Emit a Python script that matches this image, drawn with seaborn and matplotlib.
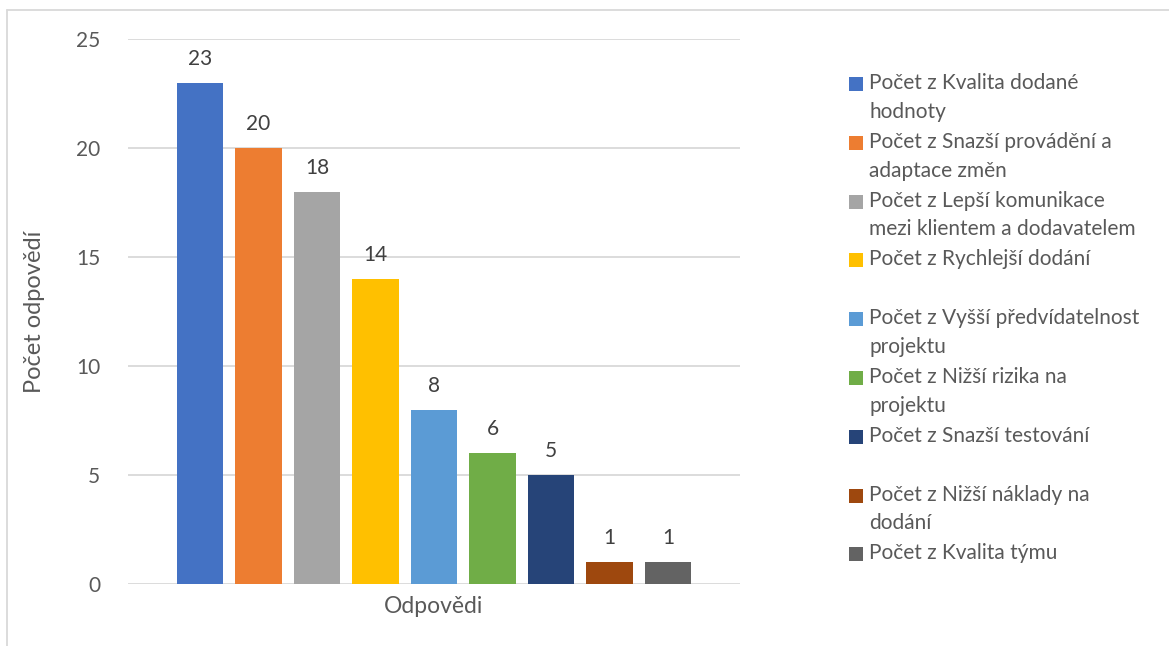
import matplotlib
matplotlib.use("Agg")
import matplotlib.pyplot as plt
from matplotlib.patches import Rectangle
from matplotlib.lines import Line2D
import seaborn as sns
import pandas as pd

# Survey answers: number of respondents per perceived benefit
category = "Odpovědi"
series = [
    "Počet z Kvalita dodané hodnoty",
    "Počet z Snazší provádění a adaptace změn",
    "Počet z Lepší komunikace mezi klientem a dodavatelem",
    "Počet z Rychlejší dodání",
    "Počet z Vyšší předvídatelnost projektu",
    "Počet z Nižší rizika na projektu",
    "Počet z Snazší testování",
    "Počet z Nižší náklady na dodání",
    "Počet z Kvalita týmu",
]
legend_labels = [
    "Počet z Kvalita dodané\nhodnoty",
    "Počet z Snazší provádění a\nadaptace změn",
    "Počet z Lepší komunikace\nmezi klientem a dodavatelem",
    "Počet z Rychlejší dodání",
    "Počet z Vyšší předvídatelnost\nprojektu",
    "Počet z Nižší rizika na\nprojektu",
    "Počet z Snazší testování",
    "Počet z Nižší náklady na\ndodání",
    "Počet z Kvalita týmu",
]
values = [23, 20, 18, 14, 8, 6, 5, 1, 1]
colors = ["#4472C4", "#ED7D31", "#A5A5A5", "#FFC000", "#5B9BD5",
          "#70AD47", "#264478", "#9E480E", "#636363"]
y_ticks = [0, 5, 10, 15, 20, 25]

df = pd.DataFrame({"kategorie": [category] * len(series),
                   "serie": series, "pocet": values})

sns.set_theme(style="white")
plt.rcParams["font.family"] = ["Lato", "DejaVu Sans"]
text_color = "#595959"
grid_color = "#D9D9D9"
fs = 15

fig = plt.figure(figsize=(11.69, 6.46), dpi=100)
ax = fig.add_axes([0.1095, 0.096, 0.5235, 0.8435])

sns.barplot(data=df, x="kategorie", y="pocet", hue="serie",
            hue_order=series, palette=colors, width=0.86, gap=0.21,
            dodge=True, legend=False, ax=ax, saturation=1, errorbar=None,
            linewidth=0, edgecolor="none")

for container in ax.containers:
    ax.bar_label(container, fmt="%d", padding=10, fontsize=fs, color="#404040")

ax.set_xlim(-0.5, 0.5)
ax.set_ylim(0, 25)
ax.set_yticks(y_ticks)
ax.yaxis.grid(True, color=grid_color, linewidth=1.3)
ax.set_axisbelow(True)
for s in ax.spines.values():
    s.set_visible(False)
ax.tick_params(axis="both", length=0, labelsize=fs, labelcolor=text_color)
ax.tick_params(axis="y", pad=20)
ax.tick_params(axis="x", pad=9)
ax.set_xlabel("")
for t in ax.get_xticklabels():
    t.set_fontsize(fs + 1.5)
ax.set_ylabel("Počet odpovědí", fontsize=fs + 2, color=text_color, labelpad=22)

# Legend column at the right, each entry in a two-line slot
W, H = fig.get_size_inches() * fig.dpi
slot = 58.8
for i, (lab, col) in enumerate(zip(legend_labels, colors)):
    y_top = 76 + i * slot
    fig.add_artist(Rectangle((849 / W, 1 - (y_top + 15) / H), 14 / W, 14 / H,
                             transform=fig.transFigure, facecolor=col,
                             edgecolor="none"))
    fig.text(869 / W, 1 - (y_top - 3) / H, lab, fontsize=fs, color=text_color,
             va="top", ha="left", linespacing=1.55)

# Chart frame (top and left edges)
fig.add_artist(Line2D([7 / W, 1], [1 - 10 / H, 1 - 10 / H],
                      transform=fig.transFigure, color=grid_color, lw=1.3))
fig.add_artist(Line2D([7 / W, 7 / W], [0, 1 - 10 / H],
                      transform=fig.transFigure, color=grid_color, lw=1.3))

fig.savefig("out.png", dpi=100, facecolor="white")
